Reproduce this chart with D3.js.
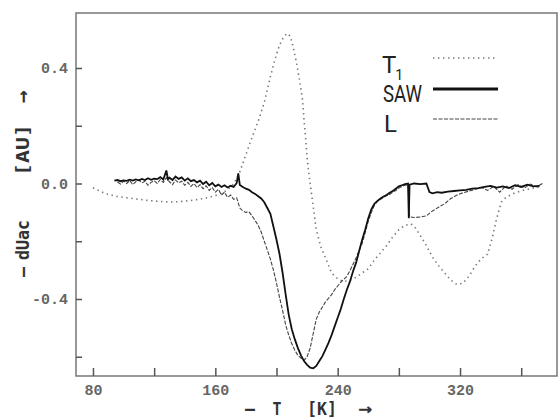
<!DOCTYPE html>
<html>
<head>
<meta charset="utf-8">
<script src="https://cdn.jsdelivr.net/npm/d3@7"></script>
<style>
  body { margin: 0; background: #fff; }
  svg { display: block; }
</style>
</head>
<body>
<svg width="558" height="419"></svg>
<script>
// temperature (K) / signal (AU) pairs
var sawT = [94,96,98,100,102,104,106,108,110,112,114,116,118,120,122,124,126,128,129,130,132,134,136,138,140,142,144,146,148,150,152,154,156,158,160,162,164,166,168,170,172,174,175,176,178,180,182,184,186,188,190,192,194,196,198,200,202,204,206,208,210,212,214,216,218,220,222,224,226,228,230,232,234,236,238,240,242,244,246,248,250,252,254,256,258,260,262,264,266,268,270,272,274,276,278,280,282,284,286,286.5,287,290,294,298,300,302,305,308,312,316,320,324,328,332,336,340,344,348,352,356,360,364,368,372];
var sawV = [0.010,0.012,0.008,0.011,0.009,0.013,0.010,0.014,0.011,0.016,0.012,0.018,0.013,0.017,0.015,0.022,0.014,0.045,0.015,0.020,0.012,0.024,0.016,0.021,0.010,0.018,0.008,0.012,0.004,0.010,-0.002,0.006,-0.006,0.002,-0.010,-0.004,-0.012,-0.006,-0.014,-0.008,-0.012,0.002,0.035,-0.005,-0.012,-0.018,-0.022,-0.030,-0.036,-0.044,-0.052,-0.065,-0.085,-0.105,-0.150,-0.195,-0.245,-0.310,-0.385,-0.455,-0.505,-0.540,-0.570,-0.595,-0.615,-0.628,-0.638,-0.640,-0.632,-0.615,-0.598,-0.575,-0.552,-0.525,-0.495,-0.465,-0.435,-0.400,-0.368,-0.340,-0.305,-0.275,-0.235,-0.195,-0.160,-0.120,-0.090,-0.070,-0.060,-0.052,-0.045,-0.040,-0.032,-0.026,-0.018,-0.010,-0.006,-0.002,0.000,-0.120,-0.004,0.000,-0.002,0.000,-0.030,-0.034,-0.030,-0.032,-0.028,-0.026,-0.024,-0.022,-0.018,-0.016,-0.012,-0.008,-0.014,-0.010,-0.016,-0.006,-0.012,-0.004,-0.010,-0.008];

var lT = [96,98,100,102,104,106,108,110,112,114,116,118,120,122,124,126,128,130,132,134,136,138,140,142,144,146,148,150,152,154,156,158,160,162,164,166,168,170,172,174,176,178,180,182,184,186,188,190,192,194,196,198,200,202,204,206,208,210,212,214,216,218,220,222,224,226,228,230,232,234,236,238,240,242,244,246,248,250,252,254,256,258,260,262,264,266,268,270,272,274,276,278,280,282,284,286,287,290,294,298,302,306,310,314,318,322,326,330,334,338,342,346,350,354,358,362,366,370,374];
var lV = [0.005,-0.002,0.008,0.000,0.010,-0.004,0.006,0.012,0.002,0.008,-0.006,0.004,0.010,0.000,0.014,0.004,0.020,0.006,-0.004,0.012,0.002,0.008,-0.006,0.004,-0.010,0.000,-0.014,-0.004,-0.018,-0.008,-0.024,-0.014,-0.030,-0.020,-0.040,-0.030,-0.048,-0.040,-0.055,-0.050,-0.085,-0.095,-0.100,-0.098,-0.112,-0.128,-0.145,-0.168,-0.200,-0.230,-0.262,-0.300,-0.345,-0.395,-0.440,-0.490,-0.525,-0.555,-0.578,-0.595,-0.605,-0.612,-0.600,-0.570,-0.520,-0.470,-0.445,-0.428,-0.410,-0.398,-0.385,-0.368,-0.355,-0.342,-0.332,-0.322,-0.302,-0.280,-0.258,-0.232,-0.208,-0.170,-0.130,-0.100,-0.075,-0.062,-0.055,-0.048,-0.042,-0.038,-0.030,-0.024,-0.016,-0.010,-0.006,-0.004,-0.115,-0.118,-0.116,-0.112,-0.095,-0.082,-0.070,-0.052,-0.040,-0.032,-0.026,-0.020,-0.014,-0.024,-0.010,-0.030,-0.008,-0.020,-0.004,-0.016,-0.002,-0.012,0.000];

var t1T = [80,84,88,92,96,100,106,112,118,124,130,136,142,148,154,160,164,168,172,176,180,184,188,192,196,199,202,205,207,209,211,213,215,217,218,219,220,221,222,224,226,229,233,236,240,244,248,252,256,260,264,268,272,276,280,284,288,291,294,298,302,306,310,314,318,322,326,330,334,338,341,344,347,350,355,360,366,372];
var t1V = [-0.015,-0.025,-0.035,-0.040,-0.045,-0.048,-0.052,-0.056,-0.060,-0.062,-0.064,-0.063,-0.060,-0.056,-0.050,-0.042,-0.034,-0.022,-0.002,0.040,0.100,0.160,0.215,0.280,0.370,0.430,0.480,0.510,0.520,0.510,0.470,0.420,0.360,0.290,0.220,0.160,0.090,0.040,0.000,-0.080,-0.160,-0.220,-0.270,-0.310,-0.330,-0.340,-0.335,-0.325,-0.310,-0.295,-0.265,-0.240,-0.215,-0.185,-0.160,-0.145,-0.140,-0.155,-0.180,-0.215,-0.255,-0.285,-0.310,-0.335,-0.350,-0.345,-0.320,-0.285,-0.260,-0.245,-0.190,-0.120,-0.065,-0.048,-0.035,-0.025,-0.018,-0.012];

var xTicks = [80,120,160,200,240,280,320,360];
var xLabels = [80,160,240,320];
var yTicks = [-0.6,-0.4,-0.2,0,0.2,0.4];
var yLabels = {"-0.4":"-0.4", "0":"0.0", "0.4":"0.4"};
var seriesNames = ["T1","SAW","L"];

var svg = d3.select("svg");
var plotLeft = 76, plotRight = 557, plotTop = 13, plotBottom = 376;

var x = d3.scaleLinear().domain([68.9, 383.4]).range([plotLeft, plotRight]);
var y = d3.scaleLinear().domain([-0.6667, 0.5905]).range([plotBottom, plotTop]);

function zip(a, b) { return a.map(function(d, i) { return [d, b[i]]; }); }

var line = d3.line()
    .x(function(d) { return x(d[0]); })
    .y(function(d) { return y(d[1]); });

svg.append("clipPath").attr("id", "plot")
  .append("rect").attr("x", plotLeft).attr("y", plotTop)
    .attr("width", plotRight - plotLeft).attr("height", plotBottom - plotTop);

var g = svg.append("g").attr("clip-path", "url(#plot)");

// T1 : sparse gray dots
g.append("path")
    .attr("d", line(zip(t1T, t1V)))
    .attr("fill", "none")
    .attr("stroke", "#777")
    .attr("stroke-width", 1.6)
    .attr("stroke-dasharray", "1.4,3.6");

// L : thin dashes
g.append("path")
    .attr("d", line(zip(lT, lV)))
    .attr("fill", "none")
    .attr("stroke", "#444")
    .attr("stroke-width", 1.1)
    .attr("stroke-dasharray", "4,1.5");

// SAW : solid
g.append("path")
    .attr("d", line(zip(sawT, sawV)))
    .attr("fill", "none")
    .attr("stroke", "#111")
    .attr("stroke-width", 1.8);

// frame
svg.append("rect")
    .attr("x", plotLeft).attr("y", plotTop)
    .attr("width", plotRight - plotLeft).attr("height", plotBottom - plotTop)
    .attr("fill", "none")
    .attr("stroke", "#777")
    .attr("stroke-width", 1.5);

// axes, ticks pointing inward
var xAxis = svg.append("g")
    .attr("transform", "translate(0," + plotBottom + ")")
    .call(d3.axisBottom(x)
        .tickValues(xTicks)
        .tickSize(-8)
        .tickPadding(8)
        .tickFormat(function(d) { return xLabels.indexOf(d) >= 0 ? d : ""; }));

var yAxis = svg.append("g")
    .attr("transform", "translate(" + plotLeft + ",0)")
    .call(d3.axisLeft(y)
        .tickValues(yTicks)
        .tickSize(-6)
        .tickPadding(8)
        .tickFormat(function(d) { return yLabels[String(+d.toFixed(1))] || ""; }));

[xAxis, yAxis].forEach(function(a) {
    a.select(".domain").remove();
    a.selectAll(".tick line").attr("stroke", "#555").attr("stroke-width", 1.5);
    a.selectAll(".tick text")
        .attr("fill", "#666")
        .attr("font-family", "'Liberation Mono', 'DejaVu Sans Mono', monospace")
        .attr("font-weight", "bold")
        .attr("font-size", 15);
});

// axis titles: [text, centre, width]
var titleFont = "'DejaVu Sans Mono', 'Liberation Mono', monospace";
var xTitle = [["\u2013", 250, 10], ["T", 277, 9], ["[K]", 322, 30], ["\u2192", 365, 14]];
xTitle.forEach(function(p) {
    svg.append("text")
        .attr("x", p[1]).attr("y", 415)
        .attr("text-anchor", "middle")
        .attr("font-family", titleFont)
        .attr("font-weight", "bold")
        .attr("font-size", p[0] === "\u2192" ? 20 : 17)
        .attr("fill", "#333")
        .attr("textLength", p[2])
        .attr("lengthAdjust", "spacingAndGlyphs")
        .text(p[0]);
});

var yTitle = [["\u2013", 272, 10], ["dUac", 240, 40], ["[AU]", 150, 52], ["\u2192", 97, 13]];
yTitle.forEach(function(p) {
    svg.append("text")
        .attr("transform", "translate(29," + p[1] + ") rotate(-90)")
        .attr("text-anchor", "middle")
        .attr("font-family", titleFont)
        .attr("font-weight", "bold")
        .attr("font-size", p[0] === "\u2192" ? 20 : 18)
        .attr("fill", "#333")
        .attr("textLength", p[2])
        .attr("lengthAdjust", "spacingAndGlyphs")
        .text(p[0]);
});

// legend
var legend = svg.append("g");
var legendFont = "Roboto, 'Liberation Sans', sans-serif";

var t1Label = legend.append("text")
    .attr("x", 382).attr("y", 73)
    .attr("font-family", legendFont)
    .attr("font-size", 24)
    .attr("fill", "#222");
t1Label.append("tspan").text("T");
t1Label.append("tspan").attr("font-size", 14).attr("dy", 7).attr("dx", -1).text("1");

legend.append("text")
    .attr("x", 383).attr("y", 102)
    .attr("font-family", legendFont)
    .attr("font-size", 24)
    .attr("fill", "#222")
    .attr("textLength", 39)
    .attr("lengthAdjust", "spacingAndGlyphs")
    .text(seriesNames[1]);

legend.append("text")
    .attr("x", 384).attr("y", 132)
    .attr("font-family", legendFont)
    .attr("font-size", 24)
    .attr("fill", "#222")
    .text(seriesNames[2]);

legend.append("line")
    .attr("x1", 433).attr("x2", 498).attr("y1", 58).attr("y2", 58)
    .attr("stroke", "#777").attr("stroke-width", 1.6)
    .attr("stroke-dasharray", "1.4,3.6");
legend.append("line")
    .attr("x1", 433).attr("x2", 498).attr("y1", 89).attr("y2", 89)
    .attr("stroke", "#111").attr("stroke-width", 3);
legend.append("line")
    .attr("x1", 433).attr("x2", 498).attr("y1", 119).attr("y2", 119)
    .attr("stroke", "#444").attr("stroke-width", 1.1)
    .attr("stroke-dasharray", "4,1.5");
</script>
</body>
</html>
